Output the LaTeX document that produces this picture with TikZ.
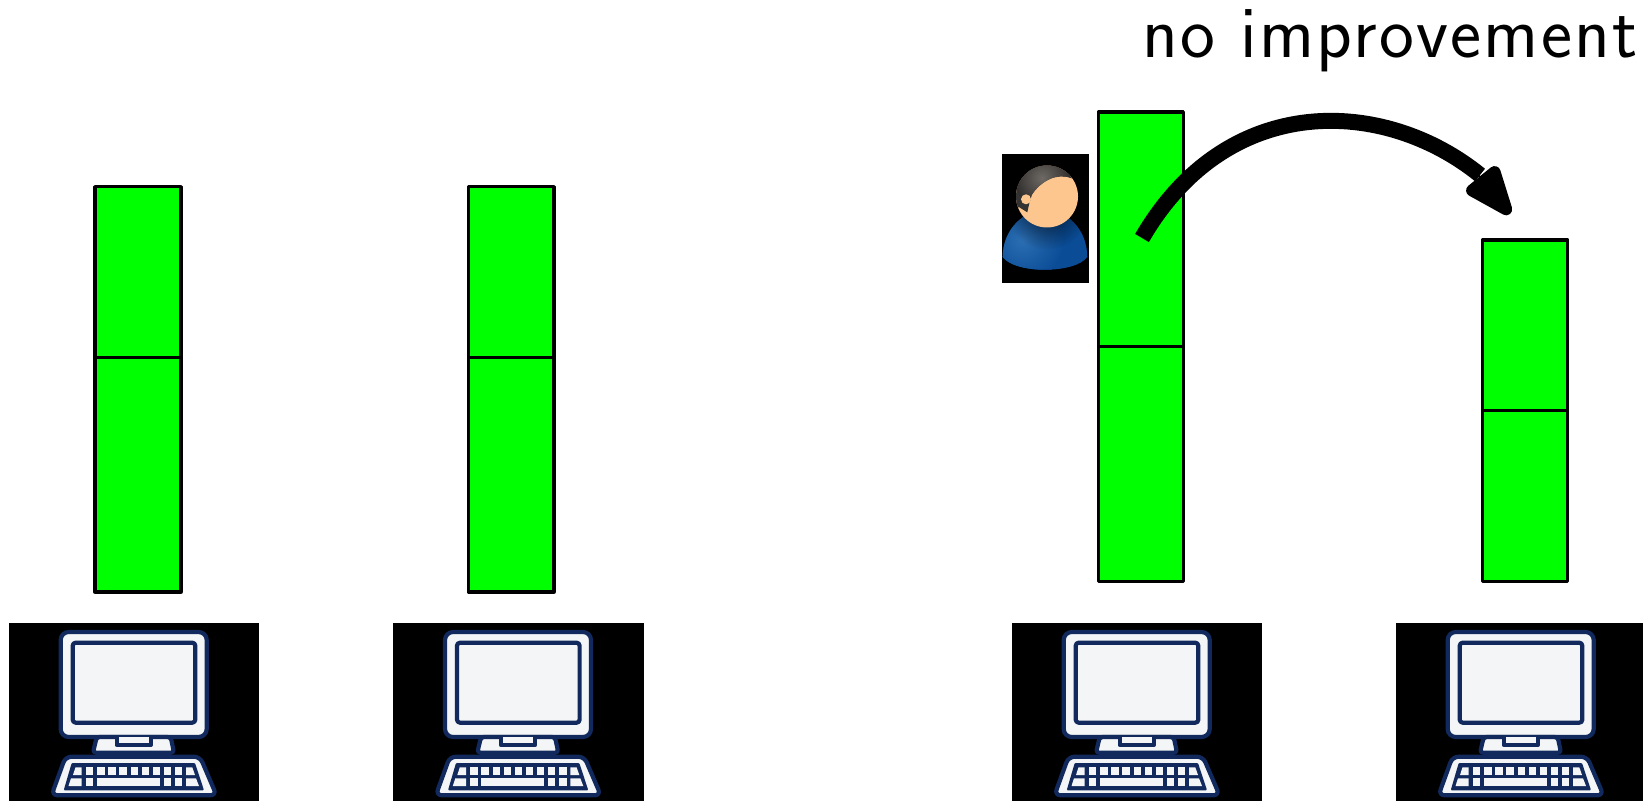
\documentclass[tikz,border=0pt]{standalone}
\usepackage{fontspec}
\setsansfont[LetterSpace=3.1]{Latin Modern Sans}
\usetikzlibrary{arrows.meta,fadings}
\definecolor{navyc}{HTML}{11295C}
\definecolor{paperc}{HTML}{F3F5F7}
\definecolor{skinc}{HTML}{FDC68E}
\tikzfading[name=softc, inner color=transparent!0, outer color=transparent!100]
\tikzset{
  barbox/.style={draw=black,fill=green,line width=1.65pt,line join=round,inner sep=0pt,outer sep=0pt,anchor=north west},
  blackbox/.style={fill=black,inner sep=0pt,outer sep=0pt,anchor=north west},
  iconline/.style={draw=navyc,line width=2.1pt,fill=paperc,line join=round},
  keycap/.style={fill=paperc},
  computer/.pic={
    \path[iconline,rounded corners=4pt] (51.7,9) rectangle (197.7,114);
    \path[iconline,rounded corners=1.5pt] (63.7,19.7) rectangle (186.3,99.7);
    \path[iconline,rounded corners=1.5pt] (87.7,114) -- (161.7,114) -- (165,129.7) -- (84,129.7) -- cycle;
    \path[iconline] (107.7,114) -- (107.7,122) -- (141.7,122) -- (141.7,114);
    \path[iconline,rounded corners=3pt] (56.5,133.7) -- (191,133.7) -- (207.5,172.3) -- (42.5,172.3) -- cycle;
    \fill[navyc,rounded corners=0.5pt] (62.7,140) -- (186,140) -- (195,167.3) -- (54.7,167.3) -- cycle;
    \foreach \xa/\xb in {77/84.3,88/95.7,99.3/106.7,110.3/117.7,121.7/128.7,132.7/140,143.7/151,155/162,166/173.3}
      \fill[keycap] (\xa,144.3) rectangle (\xb,152);
    \foreach \xa/\xb in {77/84.3,88/151,155/162,166/173.3}
      \fill[keycap] (\xa,155.3) rectangle (\xb,163);
    \fill[keycap] (66.5,144.3) -- (72.7,144.3) -- (72.7,152) -- (64,152) -- cycle;
    \fill[keycap] (177,144.3) -- (183.3,144.3) -- (186,152) -- (177,152) -- cycle;
    \fill[keycap] (62,155.3) -- (72.7,155.3) -- (72.7,163) -- (59.5,163) -- cycle;
    \fill[keycap] (177,155.3) -- (187,155.3) -- (190,163) -- (177,163) -- cycle;
  }
}
\newcommand{\twobars}[6]{%
  \node[barbox,minimum width=#3*0.5pt-#2*0.5pt,minimum height=#5*0.5pt-#4*0.5pt] (#1top) at (#2,#4) {};
  \node[barbox,minimum width=#3*0.5pt-#2*0.5pt,minimum height=#6*0.5pt-#5*0.5pt] (#1low) at (#2,#5) {};
}
\begin{document}
\begin{tikzpicture}[x=0.5pt,y=-0.5pt]
\useasboundingbox (0,0) rectangle (1643,801);
\clip (0,0) rectangle (1643,801);
% bars
\twobars{a}{95}{181}{186.7}{357.5}{592}
\twobars{b}{468.5}{554}{186.7}{357.5}{592}
\twobars{c}{1098.3}{1183.3}{112}{346.7}{581.3}
\twobars{d}{1482.3}{1567.7}{240}{410.3}{581.3}
% computers
\node[blackbox,minimum width=125pt,minimum height=89pt] (pc1) at (9,623) {};
\node[blackbox,minimum width=125.4pt,minimum height=89pt] (pc2) at (393,623) {};
\node[blackbox,minimum width=124.9pt,minimum height=89pt] (pc3) at (1012,623) {};
\node[blackbox,minimum width=124pt,minimum height=89pt] (pc4) at (1396,623) {};
\pic at (9,623) {computer};
\pic at (393.3,623) {computer};
\pic at (1012,623) {computer};
\pic at (1396,623) {computer};
% person
\node[blackbox,minimum width=43.5pt,minimum height=64.5pt] (user) at (1002,154) {};
\begin{scope}
  \clip (1002.7,257) .. controls (1003,228) and (1025,210) .. (1045,210)
    .. controls (1066,210) and (1087,228) .. (1087.3,257)
    .. controls (1075,274) and (1015,274) .. (1002.7,257) -- cycle;
  \fill[fill={rgb,255:red,10;green,76;blue,150}] (1000,205) rectangle (1090,275);
  \shade[inner color={rgb,255:red,44;green,110;blue,178},outer color={rgb,255:red,10;green,76;blue,150}] (1022,240) circle (42);
  \fill[black,opacity=.7,path fading=softc] (1047,208) circle (42);
\end{scope}
\fill[skinc] (1047,196.5) circle (31);
\begin{scope}
  \clip (1047,196.5) circle (31);
  \clip (1071.7,178.3) .. controls (1056.7,172) and (1040,181.7) .. (1031.7,195)
    -- (1029.3,203.3) -- (1027.3,212.3) -- (1019.3,207.3) -- (1000,210)
    -- (1000,150) -- (1090,150) -- (1090,178.3) -- cycle;
  \fill[black!80] (1000,150) rectangle (1090,230);
  \shade[inner color={rgb,255:red,110;green,105;blue,100},outer color={rgb,255:red,48;green,46;blue,45}] (1042,178) circle (28);
\end{scope}
\fill[skinc] (1026,199.3) circle (5);
% label
\node[anchor=base west,inner sep=0pt,font=\fontsize{37}{40}\sffamily] (label) at (1142,58) {no improvement};
% arrow
\coordinate (arrowstart) at (1142,238);
\coordinate (arrowbase) at (1480,175);
\coordinate (headback) at (1466,160);
\coordinate (arrowend) at (1510,214);
\draw[line width=8pt] (arrowstart) .. controls (1228,90) and (1385,98) .. (arrowbase);
\draw[line width=1pt,-{Triangle[round,length=30pt,width=21.5pt,line width=6pt]}] (headback) -- (arrowend);
\end{tikzpicture}
\end{document}
